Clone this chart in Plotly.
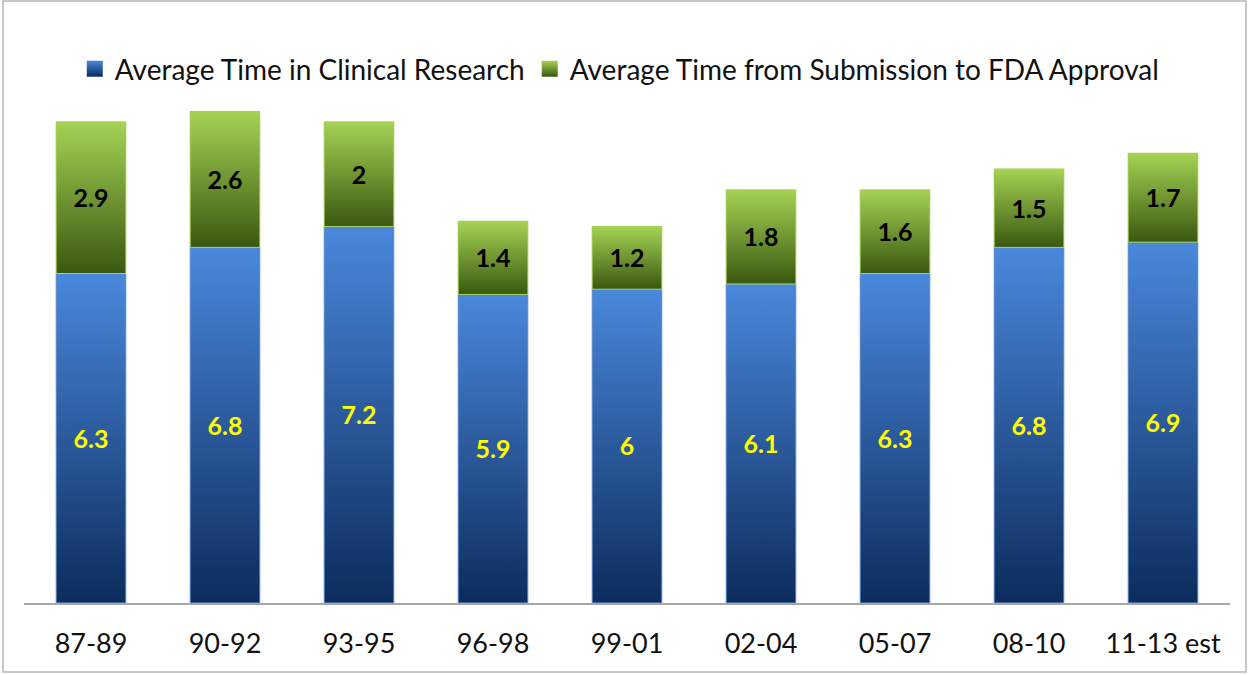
import plotly.graph_objects as go

categories = ["87-89", "90-92", "93-95", "96-98", "99-01", "02-04", "05-07", "08-10", "11-13 est"]
clinical = [6.3, 6.8, 7.2, 5.9, 6.0, 6.1, 6.3, 6.8, 6.9]
approval = [2.9, 2.6, 2.0, 1.4, 1.2, 1.8, 1.6, 1.5, 1.7]
series_names = ["Average Time in Clinical Research", "Average Time from Submission to FDA Approval"]

FONT = "Lato"
BAR_W = 0.52
LABEL_NUDGE = 0.06  # small downward text nudge (axis units) to centre glyphs
blue_light, blue_mid, blue_dark = "#4a88dc", "#1f57a6", "#0c2c5c"
green_light, green_mid, green_dark = "#a6d254", "#6b8f2a", "#3a5810"

idx = list(range(len(categories)))
fig = go.Figure()

# Data bars
fig.add_trace(go.Bar(x=idx, y=clinical, width=BAR_W, name=series_names[0], showlegend=False,
                     marker=dict(color=blue_mid, line=dict(width=0)), hoverinfo="skip"))
fig.add_trace(go.Bar(x=idx, y=approval, width=BAR_W, name=series_names[1], showlegend=False,
                     marker=dict(color=green_mid, line=dict(width=0)), hoverinfo="skip"))

# Gradient overlays computed from the same data
for i, (c, a) in enumerate(zip(clinical, approval)):
    x0, x1 = i - BAR_W / 2, i + BAR_W / 2
    for lo, hi, light, dark, edge in [(0, c, blue_light, blue_dark, "#6f9ad6"),
                                      (c, c + a, green_light, green_dark, "#a9d35e")]:
        fig.add_trace(go.Scatter(
            x=[x0, x1, x1, x0, x0], y=[lo, lo, hi, hi, lo],
            mode="lines", fill="toself",
            line=dict(color=edge, width=1),
            fillgradient=dict(type="vertical", start=lo, stop=hi,
                              colorscale=[[0, dark], [1, light]]),
            showlegend=False, hoverinfo="skip"))

# Value labels
fig.add_trace(go.Scatter(x=idx, y=[c / 2 - LABEL_NUDGE for c in clinical], mode="text",
                         text=[f"{v:g}" for v in clinical],
                         textfont=dict(family=FONT, size=25, color="#ffff00", weight="bold"),
                         showlegend=False, hoverinfo="skip"))
fig.add_trace(go.Scatter(x=idx, y=[c + a / 2 - LABEL_NUDGE for c, a in zip(clinical, approval)], mode="text",
                         text=[f"{v:g}" for v in approval],
                         textfont=dict(family=FONT, size=25, color="#000000", weight="bold"),
                         showlegend=False, hoverinfo="skip"))

# Legend keys (square gradient swatches)
for name, light, dark in [(series_names[0], blue_light, blue_dark),
                          (series_names[1], green_light, green_dark)]:
    fig.add_trace(go.Scatter(x=[None], y=[None], mode="markers", name=name,
                             marker=dict(symbol="square", size=16, color=light,
                                         gradient=dict(type="vertical", color=dark),
                                         line=dict(width=0)),
                             hoverinfo="skip"))

# Outer frame
fig.add_shape(type="rect", xref="paper", yref="paper",
              x0=(3 - 24) / 1206, x1=(1246 - 24) / 1206,
              y0=(603 - 672) / 523, y1=(603 - 1) / 523,
              line=dict(color="#b5b5b5", width=1.5), fillcolor="rgba(0,0,0,0)", layer="below")

fig.update_layout(
    width=1250, height=675,
    barmode="stack",
    plot_bgcolor="white", paper_bgcolor="white",
    margin=dict(l=24, r=20, t=80, b=72, autoexpand=False),
    font=dict(family=FONT, color="#000000"),
    legend=dict(orientation="h", x=0.494, xanchor="center", y=(603 - 69) / 523, yanchor="middle",
                traceorder="normal", itemsizing="trace",
                font=dict(family=FONT, size=28, color="#111111"), itemwidth=30,
                bgcolor="rgba(0,0,0,0)"),
    xaxis=dict(range=[-0.5, len(categories) - 0.5], tickmode="array", tickvals=idx,
               ticktext=categories, showgrid=False, zeroline=False,
               showline=True, linecolor="#a6a6a6", linewidth=1.5,
               tickfont=dict(family=FONT, size=27, color="#111111"), ticks="", ticklabelstandoff=16),
    yaxis=dict(range=[0, 10], visible=False, showgrid=False),
)

fig.write_html("out.html", config={"displayModeBar": False},
               post_script="document.body.style.margin='0';")
